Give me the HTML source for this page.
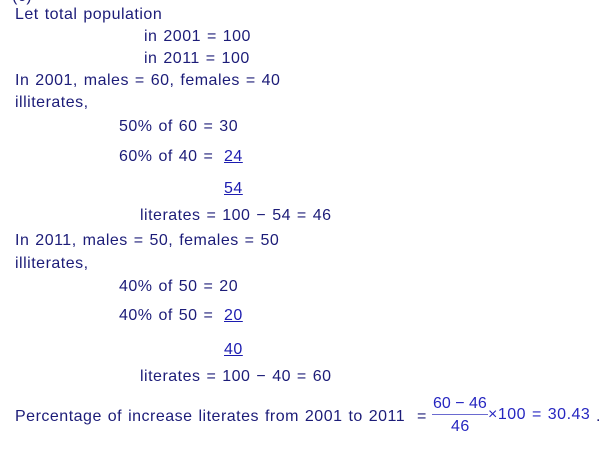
<!DOCTYPE html>
<html><head><style>
body{margin:0;width:604px;height:449px;background:#fff;overflow:hidden;position:relative;font-family:"Liberation Sans",sans-serif;font-size:16px;letter-spacing:0.5px;word-spacing:1px;color:#1c1c78}
.t{position:absolute;white-space:pre;line-height:18px}
.u{text-decoration:underline;color:#1c1cb0}
.b{color:#2626c0}
</style></head><body>
<div class="t" style="left:12px;top:-12px">(c)</div>
<div class="t" style="left:15px;top:6px">Let total population</div>
<div class="t" style="left:144px;top:28px">in 2001 = 100</div>
<div class="t" style="left:144px;top:50px">in 2011 = 100</div>
<div class="t" style="left:15px;top:72px">In 2001, males = 60, females = 40</div>
<div class="t" style="left:15px;top:94px">illiterates,</div>
<div class="t" style="left:119px;top:118px">50% of 60 = 30</div>
<div class="t" style="left:119px;top:148px">60% of 40 =</div>
<div class="t" style="left:224px;top:148px"><span class="u">24</span></div>
<div class="t" style="left:224px;top:180px"><span class="u">54</span></div>
<div class="t" style="left:140px;top:207px">literates = 100 − 54 = 46</div>
<div class="t" style="left:15px;top:232px">In 2011, males = 50, females = 50</div>
<div class="t" style="left:15px;top:255px">illiterates,</div>
<div class="t" style="left:119px;top:278px">40% of 50 = 20</div>
<div class="t" style="left:119px;top:307px">40% of 50 =</div>
<div class="t" style="left:224px;top:307px"><span class="u">20</span></div>
<div class="t" style="left:224px;top:341px"><span class="u">40</span></div>
<div class="t" style="left:140px;top:368px">literates = 100 − 40 = 60</div>
<div class="t" style="left:15px;top:408px">Percentage of increase literates from 2001 to 2011  =</div>
<div class="t b" style="left:433px;top:395px;letter-spacing:0;word-spacing:0">60 − 46</div>
<div style="position:absolute;left:432px;top:414px;width:56px;height:1px;background:#6a6ad0"></div>
<div class="t b" style="left:451px;top:418px">46</div>
<div class="t b" style="left:488px;top:406px">×100 = 30.43</div>
<div class="t" style="left:596px;top:408px">.</div>
</body></html>
